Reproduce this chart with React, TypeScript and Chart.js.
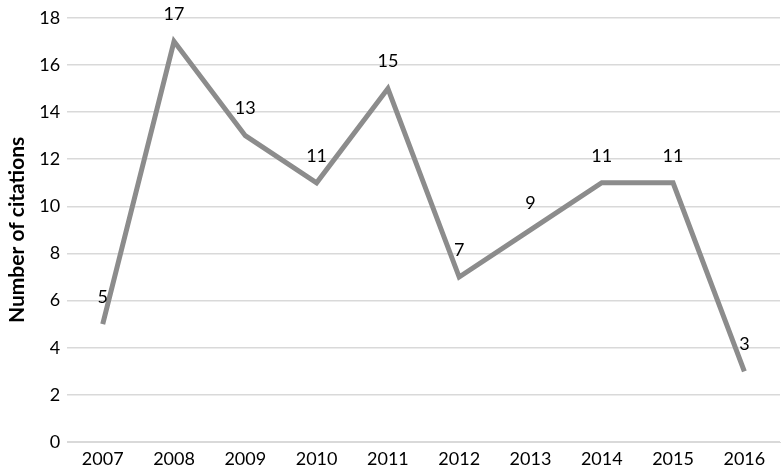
import React, { useEffect, useRef } from "react";
import { Chart, registerables } from "chart.js";

Chart.register(...registerables);

const years = ["2007", "2008", "2009", "2010", "2011", "2012", "2013", "2014", "2015", "2016"];
const citations = [5, 17, 13, 11, 15, 7, 9, 11, 11, 3];
const yTicks = [0, 2, 4, 6, 8, 10, 12, 14, 16, 18];

const FONT = "Lato, 'Open Sans', sans-serif";

const labelPlugin = {
  id: "pointLabels",
  afterDatasetsDraw(chart: any) {
    const ctx = chart.ctx;
    const meta = chart.getDatasetMeta(0);
    ctx.save();
    ctx.font = `18px ${FONT}`;
    ctx.fillStyle = "#000";
    ctx.textAlign = "center";
    ctx.textBaseline = "middle";
    meta.data.forEach((pt: any, i: number) => {
      ctx.fillText(String(citations[i]), pt.x, pt.y - 27);
    });
    ctx.restore();
  },
};

export default function App() {
  const ref = useRef<HTMLCanvasElement>(null);
  useEffect(() => {
    document.body.style.margin = "0";
    const chart = new Chart(ref.current!, {
      type: "line",
      data: {
        labels: years,
        datasets: [
          {
            data: citations,
            borderColor: "#8c8c8c",
            borderWidth: 5,
            pointRadius: 0,
            tension: 0,
            fill: false,
          },
        ],
      },
      options: {
        responsive: false,
        animation: false,
        layout: { padding: { top: 5, right: 1, left: 5, bottom: 5 } },
        plugins: { legend: { display: false }, tooltip: { enabled: false } },
        scales: {
          x: {
            offset: true,
            grid: { display: false },
            border: { display: true, color: "#d9d9d9" },
            ticks: { color: "#000", font: { family: FONT, size: 18, lineHeight: 1.0 }, padding: 0, maxRotation: 0 },
          },
          y: {
            min: 0,
            max: 18,
            afterBuildTicks: (axis: any) => {
              axis.ticks = yTicks.map((v) => ({ value: v }));
            },
            grid: { color: "#d9d9d9", lineWidth: 1.5, drawTicks: false },
            border: { display: false },
            ticks: { color: "#000", font: { family: FONT, size: 18 }, padding: 7 },
            title: {
              display: true,
              text: "Number of citations",
              color: "#000",
              font: { family: FONT, size: 21, weight: "bold" },
              padding: { top: 0, bottom: 2 },
            },
          },
        },
      },
      plugins: [labelPlugin],
    });
    return () => chart.destroy();
  }, []);
  return <canvas ref={ref} width={781} height={473} style={{ display: "block" }} />;
}
